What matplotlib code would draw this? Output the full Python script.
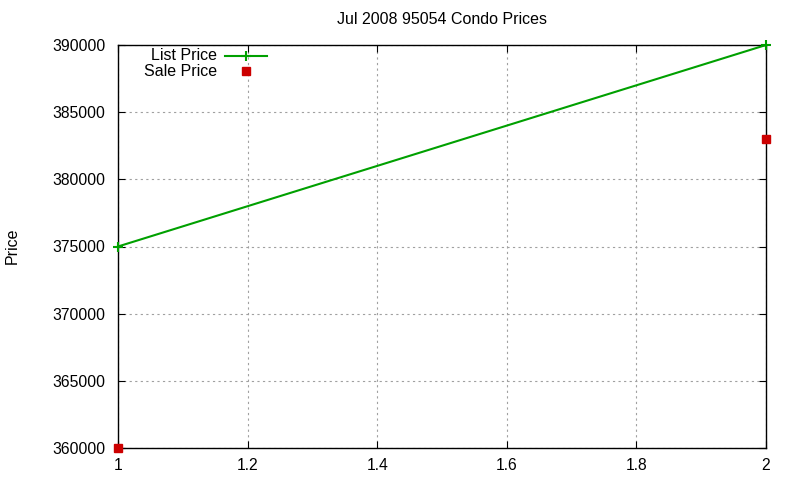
import matplotlib
matplotlib.use("Agg")
import matplotlib.pyplot as plt
from matplotlib.lines import Line2D
from matplotlib.ticker import FixedLocator

x_list = [1, 2]
list_price = [375000, 390000]
x_sale = [1, 2]
sale_price = [360000, 383000]
xticks = [1, 1.2, 1.4, 1.6, 1.8, 2]
yticks = [360000, 365000, 370000, 375000, 380000, 385000, 390000]
title = "Jul 2008 95054 Condo Prices"
labels = ["List Price", "Sale Price"]

plt.rcParams['font.family'] = ['Liberation Sans', 'DejaVu Sans']
W, H = 800, 480
fig = plt.figure(figsize=(8, 4.8), dpi=100)
ax = fig.add_axes([118/W, 1-448/H, (766-118)/W, (448-45)/H])

green = '#00a000'
red = '#cc0000'
ax.plot(x_list, list_price, color=green, lw=1.5, marker='+', ms=7, mew=1.5,
        clip_on=False, zorder=3)
ax.plot(x_sale, sale_price, ls='none', marker='s', color=red, ms=6,
        clip_on=False, zorder=3)

ax.set_xlim(1, 2)
ax.set_ylim(360000, 390000)
ax.xaxis.set_major_locator(FixedLocator(xticks))
ax.yaxis.set_major_locator(FixedLocator(yticks))
ax.set_xticklabels([f"{t:g}" for t in xticks])
ax.set_yticklabels([str(t) for t in yticks])
ax.tick_params(direction='in', top=True, right=True, length=5, labelsize=11.3, colors='black')
ax.tick_params(axis='x', pad=7)
ax.tick_params(axis='y', pad=9)
ax.grid(True, color='#a0a0a0', ls=(0, (2, 3)), lw=0.8)
for s in ax.spines.values():
    s.set_linewidth(1.0)
fig.text(12/W, 1-246/H, 'Price', rotation=90, fontsize=11.5, ha='center', va='center')
fig.text(442/W, 1-20/H, title, fontsize=11.5, ha='center', va='center')

# legend (gnuplot style: right-aligned text, then sample)
rows_y = [56, 71]
fig.text(217/W, 1-rows_y[0]/H, labels[0], fontsize=11.5, ha='right', va='center')
fig.text(217/W, 1-rows_y[1]/H, labels[1], fontsize=11.5, ha='right', va='center')
fig.add_artist(Line2D([225/W, 267/W], [1-rows_y[0]/H]*2, color=green, lw=1.5,
                      transform=fig.transFigure))
fig.add_artist(Line2D([246/W], [1-rows_y[0]/H], color=green, marker='+', ms=7, mew=1.5,
                      transform=fig.transFigure))
fig.add_artist(Line2D([246/W], [1-rows_y[1]/H], color=red, marker='s', ms=6, ls='none',
                      transform=fig.transFigure))

fig.savefig('out.png', dpi=100)
